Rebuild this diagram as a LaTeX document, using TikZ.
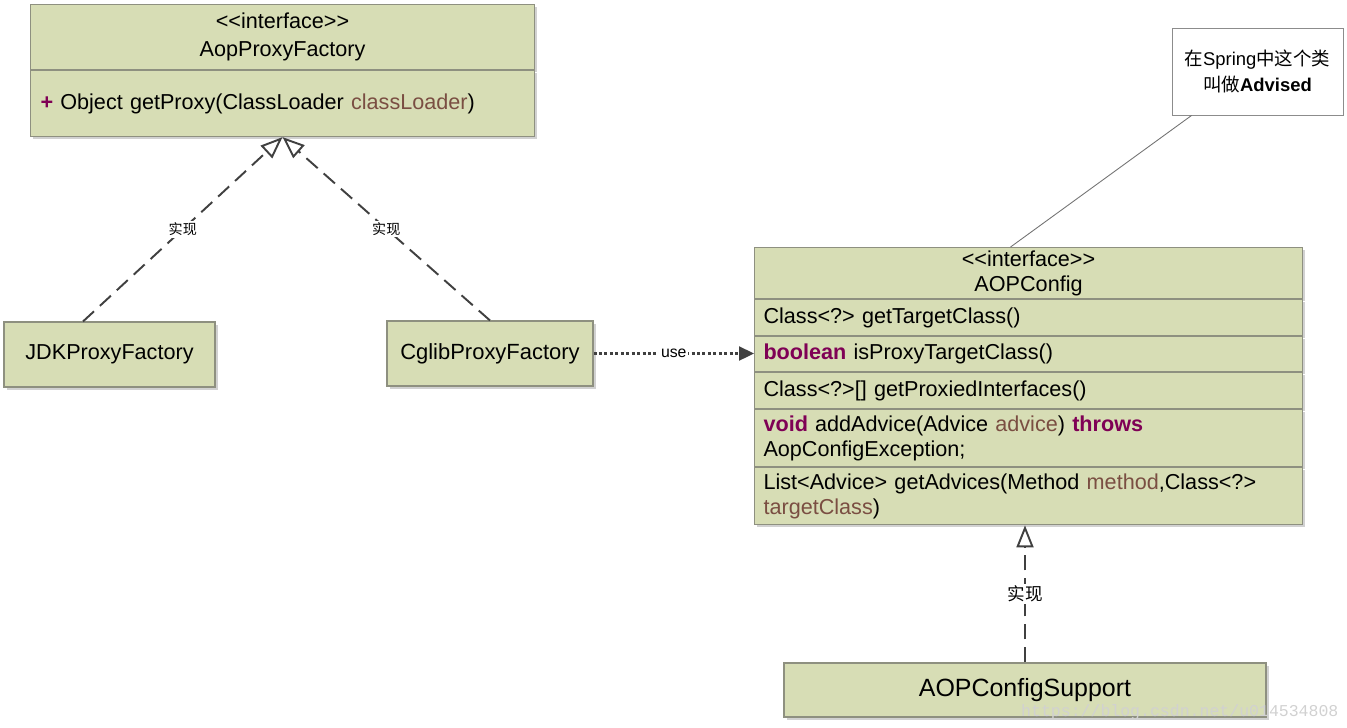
\documentclass[tikz,border=0pt]{standalone}
\usepackage{fontspec}
\setmainfont{Liberation Sans}
\newfontfamily\cjk{Noto Sans CJK SC}
\newfontfamily\wmfont{Liberation Mono}
\usetikzlibrary{arrows.meta,shadows}
\definecolor{clsfill}{HTML}{D7DDB5}
\definecolor{clsedge}{HTML}{8E9080}
\definecolor{kwcol}{HTML}{7F0055}
\definecolor{prmcol}{HTML}{7A4E42}
\newcommand{\kwtxt}[1]{\textcolor{kwcol}{\textbf{#1}}}
\newcommand{\prmtxt}[1]{\textcolor{prmcol}{#1}}
\newcommand{\stereo}{{<}{<}interface{>}{>}}

\begin{document}
\begin{tikzpicture}[
  font=\fontsize{12.3}{14.2}\selectfont,
  cls/.style={draw=clsedge, fill=clsfill, line width=0.6pt,
    drop shadow={shadow xshift=0.05cm, shadow yshift=-0.05cm, fill=black, opacity=0.18}},
  row/.style={cls, anchor=north west, text width=10.60cm, inner xsep=0.18cm, inner ysep=0pt, align=left},
  note/.style={draw=black!45, fill=white, line width=0.5pt, align=center,
    minimum width=3.42cm, minimum height=1.74cm, font=\fontsize{10.5}{15}\selectfont},
  real/.style={draw=black!75, line width=1.1pt, dash pattern=on 0.3cm off 0.16cm,
    -{Triangle[open, length=0.44cm, width=0.34cm]}},
  uses/.style={draw=black!75, line width=1.3pt, dash pattern=on 1.7pt off 1.4pt,
    -{Triangle[length=0.3cm, width=0.28cm]}},
  lab/.style={fill=white, inner sep=1pt, font=\cjk\fontsize{8}{9}\selectfont},
  wm/.style={text=black!18, font=\wmfont\fontsize{9.4}{10}\selectfont}
]
  \useasboundingbox (0,0) rectangle (26.94,-14.54);

  % AopProxyFactory
  \node[cls, anchor=north west, minimum width=10.08cm, minimum height=1.30cm, align=center, inner sep=0pt]
    (aph) at (0.60,-0.08) {\stereo\\[1.5pt]AopProxyFactory};
  \node[cls, anchor=north west, minimum width=10.08cm, minimum height=1.32cm, text width=9.68cm,
    inner xsep=0.2cm, align=left]
    (apb) at (aph.south west) {\kwtxt{+} Object getProxy(ClassLoader \prmtxt{classLoader})};

  \node[cls, minimum width=4.22cm, minimum height=1.30cm] (jdk) at (2.19,-7.09) {JDKProxyFactory};
  \node[cls, minimum width=4.12cm, minimum height=1.30cm, font=\fontsize{12.5}{14}\selectfont]
    (cg) at (9.80,-7.07) {CglibProxyFactory};

  % AOPConfig
  \node[row, align=center, minimum height=1.02cm] (hd) at (15.08,-4.94) {\stereo\\AOPConfig};
  \node[row, minimum height=0.72cm] (r1) at (hd.south west) {Class<?> getTargetClass()};
  \node[row, minimum height=0.70cm] (r2) at (r1.south west) {\kwtxt{boolean} isProxyTargetClass()};
  \node[row, minimum height=0.72cm] (r3) at (r2.south west) {Class<?>[] getProxiedInterfaces()};
  \node[row, minimum height=1.14cm] (r4) at (r3.south west)
    {\kwtxt{void} addAdvice(Advice \prmtxt{advice}) \kwtxt{throws}\\AopConfigException;};
  \node[row, minimum height=1.14cm] (r5) at (r4.south west)
    {List<Advice> getAdvices(Method \prmtxt{method},Class<?>\\\prmtxt{targetClass})};

  \node[cls, minimum width=9.64cm, minimum height=1.08cm, font=\fontsize{14.2}{16}\selectfont]
    (sup) at (20.50,-13.80) {AOPConfigSupport};

  \node[note] (nt) at (25.15,-1.43) {{\cjk 在}Spring{\cjk 中这个类}\\{\cjk 叫做}\textbf{Advised}};
  \draw[black!55, line width=0.5pt] ([xshift=0.4cm]nt.south west) -- ([xshift=-0.36cm]hd.north);

  % connectors
  \draw[real] ([xshift=-0.53cm]jdk.north) -- node[lab] {实现} (apb.south);
  \draw[real] (cg.north) -- node[lab] {实现} (apb.south);
  \draw[real] (sup.north) -- node[lab, font=\cjk\fontsize{10}{11}\selectfont] {实现} (sup.north |- r5.south);
  \draw[uses] (cg.east) -- node[fill=white, inner sep=1pt, font=\fontsize{9}{10}\selectfont] {use} (cg.east -| r2.west);

  \node[wm, anchor=west] (wmk) at (20.30,-14.24) {https://blog.csdn.net/u014534808};
\end{tikzpicture}
\end{document}
